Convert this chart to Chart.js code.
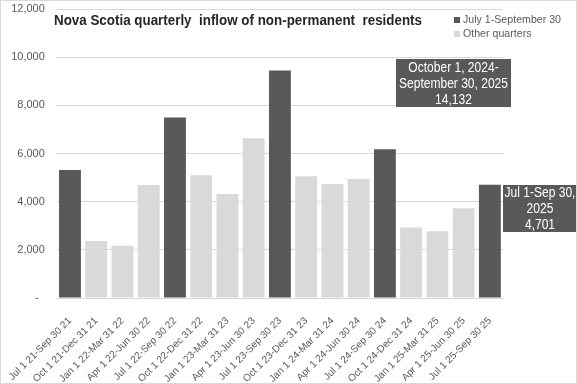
<!DOCTYPE html>
<html>
<head>
<meta charset="utf-8">
<script src="https://cdn.jsdelivr.net/npm/chart.js@4"></script>
<style>
  html, body { margin: 0; padding: 0; background: #fff; }
  #wrap { width: 577px; height: 384px; position: relative; }
</style>
</head>
<body>
<div id="wrap"><canvas id="chart1"></canvas></div>
<script>
var quarters = [
  'Jul 1 21-Sep 30 21', 'Oct 1 21-Dec 31 21', 'Jan 1 22-Mar 31 22', 'Apr 1 22-Jun 30 22',
  'Jul 1 22-Sep 30 22', 'Oct 1 22-Dec 31 22', 'Jan 1 23-Mar 31 23', 'Apr 1 23-Jun 30 23',
  'Jul 1 23-Sep 30 23', 'Oct 1 23-Dec 31 23', 'Jan 1 24-Mar 31 24', 'Apr 1 24-Jun 30 24',
  'Jul 1 24-Sep 30 24', 'Oct 1 24-Dec 31 24', 'Jan 1 25-Mar 31 25', 'Apr 1 25-Jun 30 25',
  'Jul 1 25-Sep 30 25'
];
var inflow = [5310, 2370, 2170, 4690, 7500, 5100, 4320, 6630, 9450, 5060, 4730, 4940, 6180, 2930, 2770, 3731, 4701];
var yTicks = [0, 2000, 4000, 6000, 8000, 10000, 12000];
var legendLabels = ['July 1-September 30', 'Other quarters'];
var note1 = ['October 1, 2024-', 'September 30, 2025', '14,132'];
var note2 = ['Jul 1-Sep 30,', '2025', '4,701'];

var dark = '#595959';
var light = '#d9d9d9';
var fam = "'Liberation Sans', Arial, sans-serif";

var barColors = quarters.map(function(q) { return q.indexOf('Jul') === 0 ? dark : light; });

// squeeze text horizontally so it looks like the narrow font of the original
function narrowText(ctx, text, x, y, sx) {
  ctx.save();
  ctx.translate(x, y);
  ctx.scale(sx, 1);
  ctx.fillText(text, 0, 0);
  ctx.restore();
}

var extras = {
  id: 'extras',
  afterDraw: function(chart) {
    var ctx = chart.ctx;
    var sx;
    ctx.save();
    ctx.textBaseline = 'middle';
    ctx.textAlign = 'left';
    // title
    ctx.fillStyle = '#262626';
    ctx.font = 'bold 15px ' + fam;
    var title = 'Nova Scotia quarterly  inflow of non-permanent  residents';
    sx = 368 / ctx.measureText(title).width;
    narrowText(ctx, title, 54, 21, sx);
    // legend
    ctx.font = '11px ' + fam;
    sx = 98 / ctx.measureText(legendLabels[0]).width;
    ctx.fillStyle = dark;
    ctx.fillRect(454, 17, 6, 6);
    narrowText(ctx, legendLabels[0], 463, 20, sx);
    ctx.fillStyle = light;
    ctx.fillRect(454, 31, 6, 6);
    ctx.fillStyle = dark;
    narrowText(ctx, legendLabels[1], 463, 34, sx);
    // note boxes
    ctx.font = '14px ' + fam;
    ctx.textAlign = 'center';
    sx = 109 / ctx.measureText(note1[1]).width;
    ctx.fillStyle = dark;
    ctx.fillRect(396, 59, 115, 48);
    ctx.fillStyle = '#fff';
    note1.forEach(function(t, i) { narrowText(ctx, t, 453.5, 68 + i * 16, sx); });
    ctx.fillStyle = dark;
    ctx.fillRect(503, 185, 73, 47);
    ctx.fillStyle = '#fff';
    note2.forEach(function(t, i) { narrowText(ctx, t, 540, 193 + i * 16, sx); });
    // outer border
    ctx.strokeStyle = '#d9d9d9';
    ctx.lineWidth = 1;
    ctx.strokeRect(0.5, 0.5, 576, 383);
    ctx.restore();
  }
};

function makeChart() {
  var ctx = document.getElementById('chart1').getContext('2d');
  var myChart = new Chart(ctx, {
    type: 'bar',
    data: {
      labels: quarters,
      datasets: [
        {
          data: inflow,
          backgroundColor: barColors,
          borderWidth: 0,
          categoryPercentage: 1,
          barPercentage: 0.834
        }
      ]
    },
    options: {
      responsive: true,
      maintainAspectRatio: false,
      animation: false,
      layout: { padding: { top: 9, right: 74, left: 0, bottom: 0 } },
      plugins: {
        legend: { display: false },
        title: { display: false },
        tooltip: { enabled: false }
      },
      scales: {
        x: {
          grid: { display: false },
          border: { display: true, color: light },
          ticks: {
            autoSkip: false,
            minRotation: 45,
            maxRotation: 45,
            padding: 9,
            color: dark,
            font: { family: 'Liberation Sans', size: 10 }
          },
          afterFit: function(scale) { scale.height = 86; }
        },
        y: {
          min: 0,
          max: 12000,
          afterBuildTicks: function(scale) {
            scale.ticks = yTicks.map(function(v) { return { value: v }; });
          },
          grid: { color: light, drawTicks: false },
          border: { display: false },
          ticks: {
            padding: 12,
            color: dark,
            font: { family: 'Liberation Sans', size: 11 },
            callback: function(v) { return v === 0 ? '-  ' : v.toLocaleString('en-US'); }
          },
          afterFit: function(scale) {
            scale.width = 55;
            scale.paddingTop = 0;
            scale.paddingBottom = 0;
          }
        }
      }
    },
    plugins: [extras]
  });
}

makeChart();
</script>
</body>
</html>
